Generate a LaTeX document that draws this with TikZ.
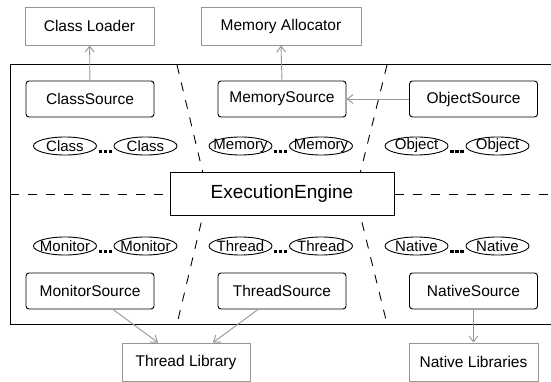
\documentclass[tikz,border=0pt]{standalone}
\usepackage{fontspec}
\setmainfont{Liberation Sans}
\usetikzlibrary{shapes.geometric,arrows.meta,calc}
\definecolor{lg}{RGB}{150,150,150}
\begin{document}
\begin{tikzpicture}[x=1pt,y=-1pt,
  ext/.style={draw=lg,line width=0.9pt,minimum width=129pt,minimum height=38pt,inner sep=0pt,font=\fontsize{15.5}{18}\selectfont},
  src/.style={draw,line width=0.9pt,rounded corners=3pt,minimum width=128pt,minimum height=36pt,inner sep=0pt,font=\fontsize{15.5}{18}\selectfont},
  eng/.style={draw,line width=1pt,fill=white,minimum width=224pt,minimum height=42pt,inner sep=0pt,font=\fontsize{19}{22}\selectfont},
  obj/.style={ellipse,draw,line width=0.9pt,minimum width=63pt,minimum height=18pt,inner sep=0pt},
  olab/.style={font=\fontsize{15}{17}\selectfont},
  garrow/.style={draw=lg,line width=0.9pt,-{Straight Barb[length=6pt,width=9pt]}},
  divide/.style={line width=0.9pt,dash pattern=on 9pt off 9pt},
  frame/.style={line width=1pt}
]
\useasboundingbox (0,0) rectangle (551,382);

% external components
\node[ext] (cl) at (89.5,26) {Class Loader};
\node[ext,minimum width=160pt] (ma) at (281,26) {Memory Allocator};
\node[ext,minimum width=128pt] (tl) at (186,362) {Thread Library};
\node[ext] (nl) at (473.5,362) {Native Libraries};

% frame
\coordinate (fr1) at (553,65);
\coordinate (fr2) at (10,65);
\coordinate (fr3) at (553,324);
\draw[frame] (fr3) -| (fr2) -- (fr1);

% dividers
\coordinate (d1a) at (177,65);
\coordinate (d1b) at (208,194);
\coordinate (d1c) at (177,324);
\coordinate (d2a) at (387,65);
\coordinate (d2b) at (355,194);
\coordinate (d2c) at (387,324);
\draw[divide] (d1a) -- (d1b) -- (d1c);
\draw[divide] (d2a) -- (d2b) -- (d2c);

% engine
\node[eng] (ee) at (282,194) {ExecutionEngine};
\coordinate (hl) at (10,194);
\coordinate (hr) at (553,194);
\draw[divide] (hl) -- (ee.west);
\draw[divide] (ee.east) -- (hr);

% sources
\node[src] (cs) at (90,99) {ClassSource};
\node[src] (ms) at (282,99) {MemorySource};
\node[src] (os) at (473.5,99) {ObjectSource};
\node[src] (mos) at (90,291) {MonitorSource};
\node[src] (ts) at (282,291) {ThreadSource};
\node[src] (ns) at (473.5,291) {NativeSource};

% objects
\node[obj,label={[olab]center:Class}] (c1) at (65,146) {};
\node[obj,label={[olab]center:Class}] (c2) at (145.5,146) {};
\node[obj,label={[olab]center:Memory}] (m1) at (240.5,146) {};
\node[obj,label={[olab]center:Memory}] (m2) at (321,146) {};
\node[obj,label={[olab]center:Object}] (o1) at (416.5,146) {};
\node[obj,label={[olab]center:Object}] (o2) at (497.5,146) {};
\node[obj,label={[olab]center:Monitor}] (mo1) at (65,246) {};
\node[obj,label={[olab]center:Monitor}] (mo2) at (145.5,246) {};
\node[obj,label={[olab]center:Thread}] (t1) at (240.5,246) {};
\node[obj,label={[olab]center:Thread}] (t2) at (321,246) {};
\node[obj,label={[olab]center:Native}] (n1) at (416.5,246) {};
\node[obj,label={[olab]center:Native}] (n2) at (497.5,246) {};

% ellipsis dots
\foreach \a/\b in {c1/c2,m1/m2,o1/o2,mo1/mo2,t1/t2,n1/n2}{
  \foreach \f in {0.2,0.5,0.8}{
    \fill ($(\a.east)!\f!(\b.west)+(-1.7,3.8)$) rectangle ++(3.4,3.4);
  }
}

% connectors
\draw[garrow] (cs) -- (cl);
\draw[garrow] (ms.north) -- (ma.south);
\draw[garrow] (os) -- (ms);
\draw[garrow] ([xshift=23pt]mos.south) -- ([xshift=-28pt]tl.north);
\draw[garrow] ([xshift=-24pt]ts.south) -- ([xshift=27pt]tl.north);
\draw[garrow] (ns) -- (nl);
\end{tikzpicture}
\end{document}
